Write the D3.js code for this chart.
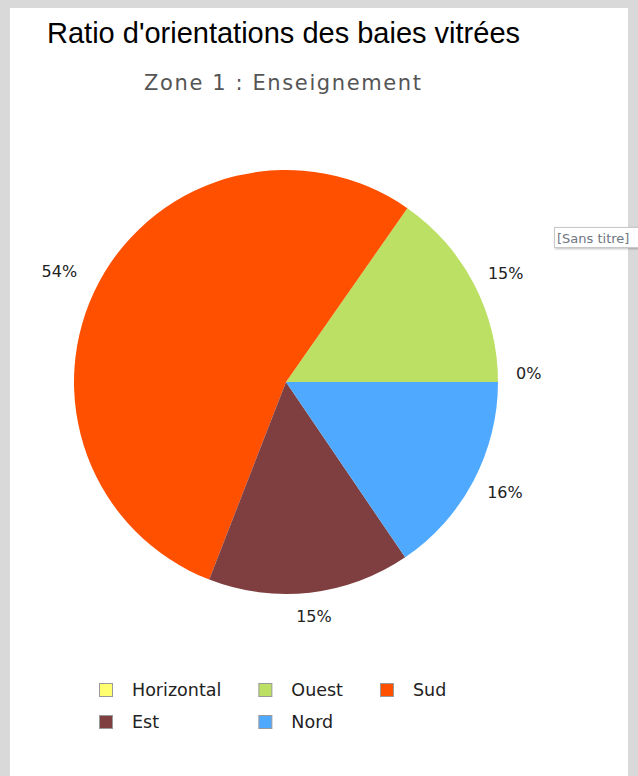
<!DOCTYPE html>
<html>
<head>
<meta charset="utf-8">
<script src="https://cdn.jsdelivr.net/npm/d3@7"></script>
<style>
    html, body { margin: 0; padding: 0; background: #d9d9d9; }
    #chart { width: 638px; height: 776px; overflow: hidden; }
</style>
</head>
<body>
<div id="chart"></div>
<script>
/*global d3*/
var categories = ["Horizontal", "Ouest", "Sud", "Est", "Nord"];
var values = [0, 15.3, 53.8, 15.4, 15.5];
var title = "Ratio d'orientations des baies vitrées";
var subtitle = "Zone 1 : Enseignement";
var seriesName = "[Sans titre]";

(function () {
    "use strict";
    var svg, pie, arc, labelArc, color, slices, legend, items, colX, fmt,
        dimensions = { width: 638, height: 776 },
        centre = { x: 286, y: 382 },
        radius = 212,
        gap = 18;

    svg = d3.select('#chart')
        .append('svg')
        .attr("width", dimensions.width)
        .attr("height", dimensions.height);

    // white panel inside the grey frame
    svg.append('rect')
        .attr("x", 10).attr("y", 8)
        .attr("width", 618).attr("height", 780)
        .attr("fill", "#fff");

    svg.append('text')
        .attr("x", 47).attr("y", 43)
        .style("font-family", "Liberation Sans, Arial, sans-serif")
        .style("font-size", "29px")
        .attr("fill", "#000")
        .text(title);

    svg.append('text')
        .attr("x", 144).attr("y", 90)
        .attr("textLength", 277)
        .attr("lengthAdjust", "spacing")
        .style("font-family", "DejaVu Sans, sans-serif")
        .style("font-size", "21px")
        .attr("fill", "#555")
        .text(subtitle);

    color = d3.scaleOrdinal()
        .domain(categories)
        .range(["#ffff70", "#bbe064", "#ff5000", "#7f3f40", "#4faaff"]);

    fmt = d3.format(".0%");

    // counter-clockwise from 3 o'clock
    pie = d3.pie()
        .sort(null)
        .startAngle(Math.PI / 2)
        .endAngle(Math.PI / 2 - 2 * Math.PI)
        .value(function (d) { return d; });

    arc = d3.arc().innerRadius(0).outerRadius(radius);
    labelArc = d3.arc().innerRadius(radius + gap).outerRadius(radius + gap);

    slices = svg.append('g')
        .attr("transform", "translate(" + centre.x + "," + centre.y + ")")
        .selectAll('g.slice')
        .data(pie(values))
        .enter().append('g').attr('class', 'slice');

    slices.append('path')
        .attr("d", arc)
        .attr("fill", function (d, i) { return color(categories[i]); });

    slices.append('text')
        .style("font-family", "DejaVu Sans, sans-serif")
        .style("font-size", "16px")
        .attr("fill", "#222")
        .text(function (d) { return fmt(d.value / d3.sum(values)); })
        .each(function (d) {
            var c = labelArc.centroid(d),
                mid = (d.startAngle + d.endAngle) / 2,
                w = this.getComputedTextLength(),
                h = 12;
            d3.select(this)
                .attr("x", c[0] + Math.sin(mid) * w / 2 - w / 2 + (Math.sin(mid) < -0.5 ? -8 : 0))
                .attr("y", c[1] - Math.cos(mid) * h / 2 + h / 2 - (d.value === 0 ? 9 : 0));
        });

    // series name box (partly outside the panel)
    svg.append('rect')
        .attr("x", 554.5).attr("y", 227.5)
        .attr("width", 90).attr("height", 20)
        .attr("fill", "#fff")
        .attr("stroke", "#c8c8c8")
        .style("filter", "drop-shadow(1px 1px 1px rgba(0,0,0,0.25))");
    svg.append('text')
        .attr("x", 557).attr("y", 242.5)
        .style("font-family", "DejaVu Sans, sans-serif")
        .style("font-size", "13px")
        .attr("fill", "#6f7680")
        .text(seriesName);

    // legend, 3 columns
    legend = svg.append('g').attr("transform", "translate(99,683)");
    items = legend.selectAll('g.item').data(categories)
        .enter().append('g').attr('class', 'item');

    items.append('rect')
        .attr("x", 0.5).attr("y", 0.5)
        .attr("width", 13).attr("height", 13)
        .attr("fill", function (d) { return color(d); })
        .attr("stroke", "#9a9a9a");

    items.append('text')
        .attr("x", 33).attr("y", 12.5)
        .style("font-family", "DejaVu Sans, sans-serif")
        .style("font-size", "17.5px")
        .attr("fill", "#222")
        .text(function (d) { return d; });

    colX = [0, 0, 0];
    items.select('text').each(function (d, i) {
        var col = i % 3, w = 33 + this.getComputedTextLength() + 37;
        if (col < 2 && colX[col + 1] < colX[col] + w) {
            colX[col + 1] = colX[col] + w;
        }
    });
    colX[2] = Math.max(colX[2], colX[1]);
    items.select('text').each(function (d, i) {
        var col = i % 3, w = 33 + this.getComputedTextLength() + 37;
        if (col === 1 && colX[2] < colX[1] + w) {
            colX[2] = colX[1] + w;
        }
    });

    items.attr("transform", function (d, i) {
        return "translate(" + colX[i % 3] + "," + Math.floor(i / 3) * 32 + ")";
    });
}());
</script>
</body>
</html>
